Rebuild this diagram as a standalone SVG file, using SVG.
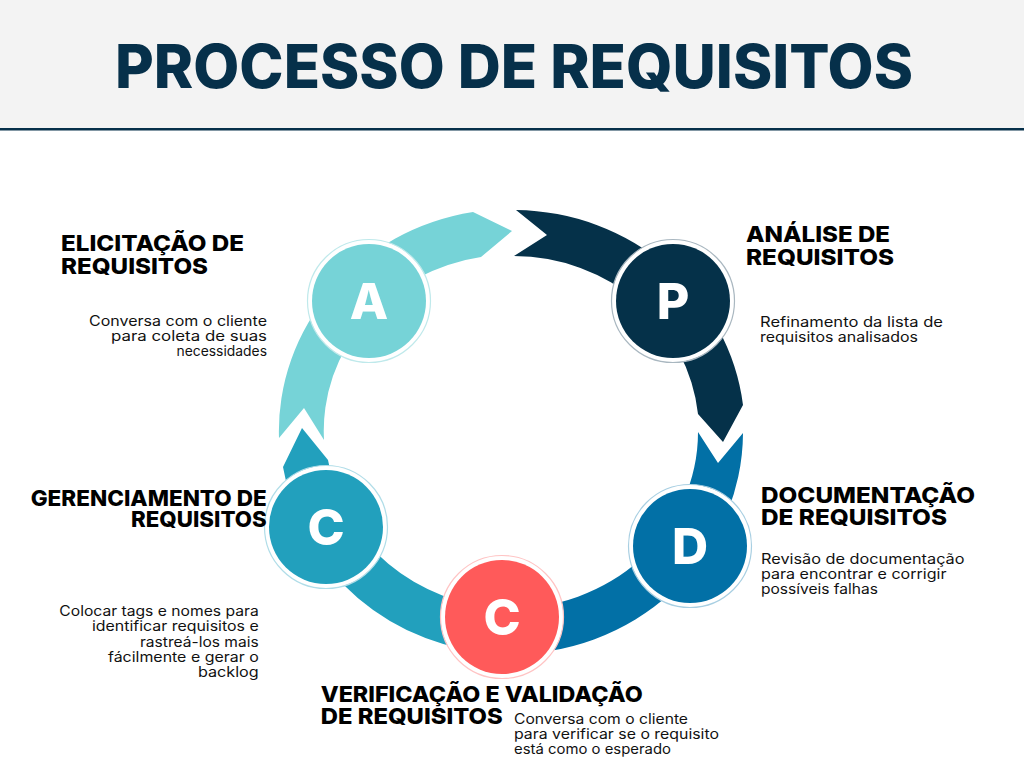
<svg xmlns="http://www.w3.org/2000/svg" width="1024" height="768" viewBox="0 0 1024 768">
<style>
.h{font-family:Inter,"Open Sans","Liberation Sans",sans-serif;font-weight:800;fill:#000;font-size:22px}
.b{font-family:Inter,"Open Sans","Liberation Sans",sans-serif;font-weight:400;font-size:14px;fill:#111}
.r{text-anchor:end}
.L{font-family:Inter,"Open Sans","Liberation Sans",sans-serif;font-weight:800;font-size:50px;fill:#fff;text-anchor:middle}
.ring{stroke-width:1.2;fill:#fff}
</style>
<rect x="0" y="0" width="1024" height="768" fill="#fff"/>
<g id="header">
<rect x="0" y="0" width="1024" height="128" fill="#f3f3f3"/>
<rect x="0" y="128" width="1024" height="2.5" fill="#06304a"/>
<text x="115" y="88" font-family="Inter,'Open Sans','Liberation Sans',sans-serif" font-weight="800" font-size="60" fill="#06304a" textLength="798" lengthAdjust="spacingAndGlyphs">PROCESSO DE REQUISITOS</text>
</g>
<g id="connectors">
<path fill="#76d3d7" d="M279,438 A232,222 0 0 1 473,212 L512,231 L481,257 A186,176 0 0 0 324,440 L304,408 Z"/>
<path fill="#053149" d="M516,210 A232,222 0 0 1 743,405 L723,442 L698,414 A186,176 0 0 0 514,256 L547,235 Z"/>
<path fill="#0270a6" d="M743,433 A232,222 0 0 1 503,654 L504.5,608 A186,176 0 0 0 698,432 L718,463 Z"/>
<path fill="#22a0bd" d="M503,654 A232,222 0 0 1 283,467 L302,428 L328,460 A186,176 0 0 0 504.5,608 Z"/>
</g>
<g id="node-A">
<circle class="ring" cx="369" cy="301" r="61.5" stroke="#bfe9eb"/>
<circle cx="369" cy="301" r="57" fill="#76d3d7"/>
<text class="L" x="369" y="319">A</text>
</g>
<g id="node-P">
<circle class="ring" cx="673" cy="301" r="61.5" stroke="#a9b7c0"/>
<circle cx="673" cy="301" r="57" fill="#053149"/>
<text class="L" x="673" y="319">P</text>
</g>
<g id="node-D">
<circle class="ring" cx="690" cy="546" r="61.5" stroke="#a8cfe2"/>
<circle cx="690" cy="546" r="57" fill="#0270a6"/>
<text class="L" x="690" y="564">D</text>
</g>
<g id="node-C-red">
<circle class="ring" cx="502" cy="617" r="61.5" stroke="#ffc4c4"/>
<circle cx="502" cy="617" r="57" fill="#ff5a5a"/>
<text class="L" x="502" y="635">C</text>
</g>
<g id="node-C-left">
<circle class="ring" cx="326" cy="527" r="61.5" stroke="#b0dde8"/>
<circle cx="326" cy="527" r="57" fill="#22a0bd"/>
<text class="L" x="326" y="545">C</text>
</g>
<g id="label-elicitacao">
<text class="h" x="61" y="250.5" textLength="183" lengthAdjust="spacingAndGlyphs">ELICITAÇÃO DE</text>
<text class="h" x="61" y="274" textLength="147" lengthAdjust="spacingAndGlyphs">REQUISITOS</text>
<text class="b r" x="267" y="326" textLength="178" lengthAdjust="spacingAndGlyphs">Conversa com o cliente</text>
<text class="b r" x="267" y="341" textLength="156" lengthAdjust="spacingAndGlyphs">para coleta de suas</text>
<text class="b r" x="267" y="356" textLength="90.5" lengthAdjust="spacingAndGlyphs">necessidades</text>
</g>
<g id="label-analise">
<text class="h" x="746" y="242" textLength="144" lengthAdjust="spacingAndGlyphs">ANÁLISE DE</text>
<text class="h" x="746" y="264.5" textLength="148" lengthAdjust="spacingAndGlyphs">REQUISITOS</text>
<text class="b" x="760" y="327" textLength="183" lengthAdjust="spacingAndGlyphs">Refinamento da lista de</text>
<text class="b" x="760" y="342" textLength="158" lengthAdjust="spacingAndGlyphs">requisitos analisados</text>
</g>
<g id="label-documentacao">
<text class="h" x="761" y="503" textLength="214" lengthAdjust="spacingAndGlyphs">DOCUMENTAÇÃO</text>
<text class="h" x="761" y="524.5" textLength="186" lengthAdjust="spacingAndGlyphs">DE REQUISITOS</text>
<text class="b" x="761" y="563.5" textLength="203.5" lengthAdjust="spacingAndGlyphs">Revisão de documentação</text>
<text class="b" x="761" y="578.5" textLength="185.5" lengthAdjust="spacingAndGlyphs">para encontrar e corrigir</text>
<text class="b" x="761" y="593.5" textLength="117" lengthAdjust="spacingAndGlyphs">possíveis falhas</text>
</g>
<g id="label-gerenciamento">
<text class="h r" x="266.7" y="506" font-size="20.5" textLength="236" lengthAdjust="spacingAndGlyphs">GERENCIAMENTO DE</text>
<text class="h r" x="266.7" y="527" font-size="20.5" textLength="135.7" lengthAdjust="spacingAndGlyphs">REQUISITOS</text>
<text class="b r" x="258.7" y="615.7" textLength="199.4" lengthAdjust="spacingAndGlyphs">Colocar tags e nomes para</text>
<text class="b r" x="258.7" y="631" textLength="166.7" lengthAdjust="spacingAndGlyphs">identificar requisitos e</text>
<text class="b r" x="258.7" y="646.5" textLength="118.7" lengthAdjust="spacingAndGlyphs">rastreá-los mais</text>
<text class="b r" x="258.7" y="662" textLength="150.7" lengthAdjust="spacingAndGlyphs">fácilmente e gerar o</text>
<text class="b r" x="258.7" y="677" textLength="60.7" lengthAdjust="spacingAndGlyphs">backlog</text>
</g>
<g id="label-verificacao">
<text class="h" x="320.7" y="701.7" textLength="322" lengthAdjust="spacingAndGlyphs">VERIFICAÇÃO E VALIDAÇÃO</text>
<text class="h" x="320.7" y="724.3" textLength="182" lengthAdjust="spacingAndGlyphs">DE REQUISITOS</text>
<text class="b" x="514" y="724" textLength="174" lengthAdjust="spacingAndGlyphs">Conversa com o cliente</text>
<text class="b" x="514" y="739" textLength="205" lengthAdjust="spacingAndGlyphs">para verificar se o requisito</text>
<text class="b" x="514" y="754" textLength="157" lengthAdjust="spacingAndGlyphs">está como o esperado</text>
</g>
</svg>
